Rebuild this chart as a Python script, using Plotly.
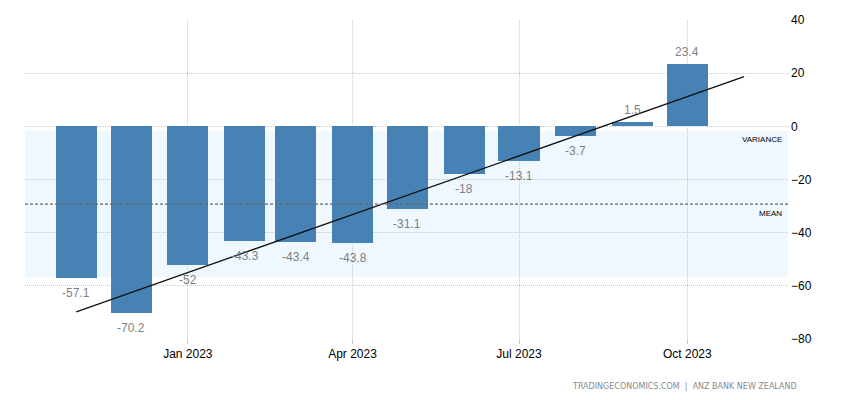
import plotly.graph_objects as go
import numpy as np
import pandas as pd


# ---------------------------------------------------
# DATA
# ---------------------------------------------------

months = [
    "2022-11-01", "2022-12-01", "2023-01-01", "2023-02-01",
    "2023-03-01", "2023-04-01", "2023-05-01", "2023-06-01",
    "2023-07-01", "2023-08-01", "2023-09-01", "2023-10-01"
]

confidence = [-57.1, -70.2, -52, -43.3, -43.4, -43.8,
              -31.1, -18, -13.1, -3.7, 1.5, 23.4]

tick_dates = ["2023-01-01", "2023-04-01", "2023-07-01", "2023-10-01"]
tick_labels = ["Jan 2023", "Apr 2023", "Jul 2023", "Oct 2023"]


# ---------------------------------------------------
# STATS (mean, std band, trend)
# ---------------------------------------------------

values = np.array(confidence)
mean = values.mean()
std = values.std(ddof=1)

idx = np.arange(len(values))
slope, intercept = np.polyfit(idx, values, 1)
trend_x = [months[0], "2023-11-01"]
trend_y = [intercept, intercept + slope * len(values)]

x_dates = pd.to_datetime(months)
bar_width = 22.5 * 24 * 3600 * 1000

BAR_COLOR = "#4682B4"
GRID = "#c8c8c8"


# ---------------------------------------------------
# FIGURE
# ---------------------------------------------------

fig = go.Figure()

fig.add_trace(go.Bar(
    x=x_dates,
    y=confidence,
    width=bar_width,
    marker=dict(color=BAR_COLOR, line=dict(width=0)),
    hoverinfo="x+y",
    showlegend=False
))

fig.add_trace(go.Scatter(
    x=pd.to_datetime(trend_x),
    y=trend_y,
    mode="lines",
    line=dict(color="#111111", width=1.3),
    hoverinfo="skip",
    showlegend=False
))

# variance band and mean line
fig.add_shape(
    type="rect", xref="paper", yref="y",
    x0=0, x1=1, y0=mean - std, y1=mean + std,
    fillcolor="#F0F8FF", line=dict(width=0), layer="below"
)

fig.add_shape(
    type="line", xref="paper", yref="y",
    x0=0, x1=1, y0=mean, y1=mean,
    line=dict(color="#666666", width=1.2, dash="3px,2px")
)

fig.add_annotation(
    xref="paper", yref="y", x=0.995, y=mean + std,
    text="VARIANCE", showarrow=False, xanchor="right", yanchor="top",
    yshift=-2, font=dict(family="Arial", size=8, color="#000000")
)

fig.add_annotation(
    xref="paper", yref="y", x=0.995, y=mean,
    text="MEAN", showarrow=False, xanchor="right", yanchor="top",
    yshift=-3, font=dict(family="Arial", size=8, color="#000000")
)

# value labels
for d, v in zip(x_dates, confidence):
    fig.add_annotation(
        x=d, y=v,
        text=f"{v:g}",
        showarrow=False,
        yshift=-15 if v < 0 else 12,
        font=dict(family="Arial", size=12, color="#7f7f7f")
    )

# footer
fig.add_annotation(
    xref="paper", yref="paper", x=1.015, y=-0.15,
    text="TRADINGECONOMICS.COM  |  ANZ BANK NEW ZEALAND",
    showarrow=False, xanchor="right", yanchor="middle",
    font=dict(family="DejaVu Sans", size=8, color="#8a8a8a")
)

fig.update_layout(
    width=850,
    height=400,
    margin=dict(l=17, r=70, t=12, b=69),
    plot_bgcolor="white",
    paper_bgcolor="white",
    bargap=0,
    font=dict(family="Arial", size=12, color="#000000")
)

fig.update_xaxes(
    type="date",
    range=["2022-10-04", "2023-11-25"],
    tickvals=pd.to_datetime(tick_dates),
    ticktext=tick_labels,
    showgrid=True,
    gridcolor=GRID,
    griddash="1px,1px",
    gridwidth=1,
    ticks="outside",
    ticklen=4,
    tickcolor=GRID,
    showline=False,
    zeroline=False,
    automargin=False,
    tickfont=dict(family="Arial", size=12, color="#000000")
)

fig.update_yaxes(
    side="right",
    range=[-80, 40],
    tickvals=[-80, -60, -40, -20, 0, 20, 40],
    showgrid=True,
    gridcolor=GRID,
    griddash="1px,1px",
    gridwidth=1,
    zeroline=False,
    showline=False,
    ticks="",
    ticklabelstandoff=2,
    automargin=False,
    tickfont=dict(family="Arial", size=12, color="#000000")
)

fig.write_html("out.html")
